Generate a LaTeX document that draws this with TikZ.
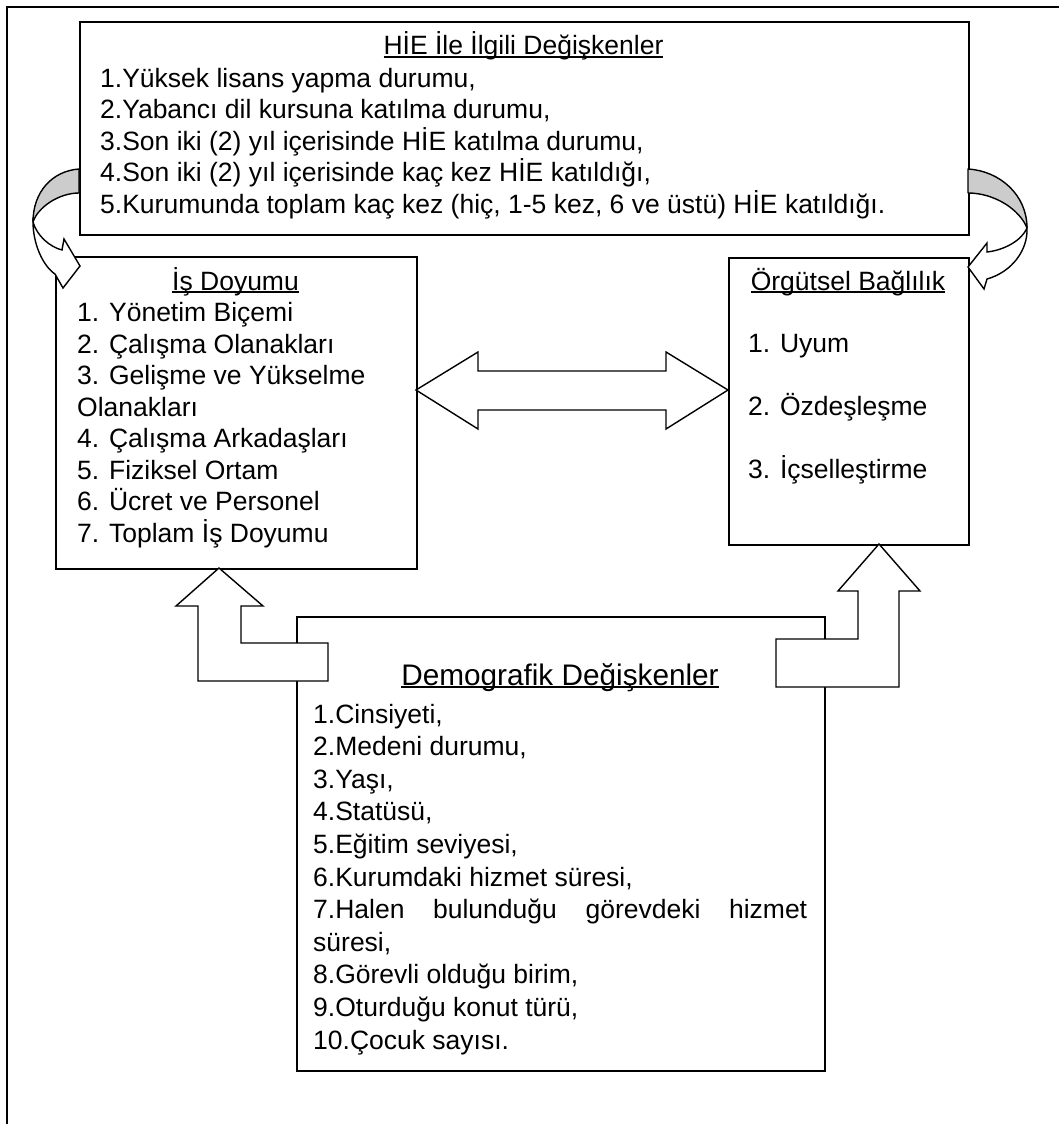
\documentclass[tikz,border=0pt]{standalone}
\usepackage{fontspec}
\setmainfont{Liberation Sans}
\definecolor{backgray}{RGB}{204,204,204}
% underline at a fixed depth, like a word processor does
\newcommand{\undl}[1]{\setbox0=\hbox{#1}\rlap{\rule[-0.11em]{\wd0}{0.07em}}\box0}
\begin{document}
\begin{tikzpicture}[x=1pt,y=-1pt,
  frame/.style={line width=1.8pt},
  panel/.style={draw, line width=1.8pt, fill=white, inner sep=0pt, anchor=north west},
  blockarrow/.style={draw, line width=1.4pt, fill=white, line join=miter},
  backface/.style={draw, line width=1.4pt, fill=backgray, line join=round},
  txt/.style={inner sep=0pt, anchor=base west, font=\fontsize{26.5}{31}\selectfont},
  head/.style={inner sep=0pt, anchor=base, font=\fontsize{26.5}{31}\selectfont},
  bighead/.style={inner sep=0pt, anchor=base, font=\fontsize{29.75}{35}\selectfont}]
\useasboundingbox (0,0) rectangle (1059,1124);

% page frame (top and left rules)
\draw[frame] (1059,7) -- (7,7) -- (7,1124);

% the four panels
\node[panel, minimum width=889pt, minimum height=213pt] (hie) at (79,21) {};
\node[panel, minimum width=361pt, minimum height=312pt] (isd) at (55,256) {};
\node[panel, minimum width=240pt, minimum height=287pt] (org) at (728,257) {};
\node[panel, minimum width=528pt, minimum height=454pt] (dem) at (296,616) {};

% texts of the top panel
\node[head] (hiet) at (523.5,55) {\undl{HİE İle İlgili Değişkenler}};
\foreach \t [count=\i] in {{1.Yüksek lisans yapma durumu,},
  {2.Yabancı dil kursuna katılma durumu,},
  {3.Son iki (2) yıl içerisinde HİE katılma durumu,},
  {4.Son iki (2) yıl içerisinde kaç kez HİE katıldığı,},
  {5.Kurumunda toplam kaç kez (hiç, 1-5 kez, 6 ve üstü) HİE katıldığı.}}
  \node[txt] (hie\i) at (100,{87+31.6*(\i-1)}) {\t};

% texts of the left panel
\node[head] (isdt) at (235.5,290) {\undl{İş Doyumu}};
\foreach \t [count=\i] in {{1. Yönetim Biçemi},{2. Çalışma Olanakları},
  {3. Gelişme ve Yükselme},{Olanakları},{4. Çalışma Arkadaşları},
  {5. Fiziksel Ortam},{6. Ücret ve Personel},{7. Toplam İş Doyumu}}
  \node[txt] (isd\i) at (77,{290+31.5*\i}) {\t};

% texts of the right panel
\node[head] (orgt) at (848,290) {\undl{Örgütsel Bağlılık}};
\node[txt] (org1) at (748,352) {1. Uyum};
\node[txt] (org2) at (748,415) {2. Özdeşleşme};
\node[txt] (org3) at (748,478) {3. İçselleştirme};

% texts of the bottom panel
\node[bighead] (demt) at (560,685) {\undl{Demografik Değişkenler}};
\foreach \t [count=\i] in {{1.Cinsiyeti,},{2.Medeni durumu,},{3.Yaşı,},
  {4.Statüsü,},{5.Eğitim seviyesi,},{6.Kurumdaki hizmet süresi,},
  {\makebox[494pt][s]{7.Halen bulunduğu görevdeki hizmet}},{süresi,},
  {8.Görevli olduğu birim,},{9.Oturduğu konut türü,},{10.Çocuk sayısı.}}
  \node[txt] (dem\i) at (313,{723+32.6*(\i-1)}) {\t};

% two-headed block arrow between the middle panels
\coordinate (dl) at (416,390);
\coordinate (dr) at (728,390);
\draw[blockarrow] (dl) -- (478,352) -- (478,371) -- (666,371) -- (666,352)
  -- (dr) -- (666,429) -- (666,410) -- (478,410) -- (478,429) -- cycle;

% bent block arrows from the bottom panel
\coordinate (lt) at (219,568);
\draw[blockarrow] (lt) -- (263,606) -- (241,606) -- (241,643) -- (328,643)
  -- (328,681) -- (198,681) -- (198,606) -- (176,606) -- cycle;
\coordinate (rt) at (879,544);
\draw[blockarrow] (rt) -- (920,591) -- (899,591) -- (899,687) -- (776,687)
  -- (776,639) -- (858,639) -- (858,591) -- (838,591) -- cycle;

% curved arrow on the left: back face, then front face with head
\draw[backface] (79,169) .. controls (52,171) and (33,192) .. (33,222)
  .. controls (38,207) and (59,193) .. (79,193) -- cycle;
\draw[blockarrow] (33,222) .. controls (37,236) and (50,247) .. (62,250)
  -- (64,239) -- (80,266) -- (63,288) -- (55,274)
  .. controls (43,266) and (33,244) .. (33,222) -- cycle;

% curved arrow on the right: back face, then front face with head
\draw[backface] (968,169) .. controls (1000,171) and (1027,195) .. (1027,228)
  .. controls (1020,210) and (995,193) .. (968,193) -- cycle;
\draw[blockarrow] (1027,228) .. controls (1022,240) and (1005,250) .. (987,252)
  -- (987,243) -- (968,267) -- (984,289) -- (987,279)
  .. controls (1012,272) and (1028,250) .. (1027,228) -- cycle;
\end{tikzpicture}
\end{document}
